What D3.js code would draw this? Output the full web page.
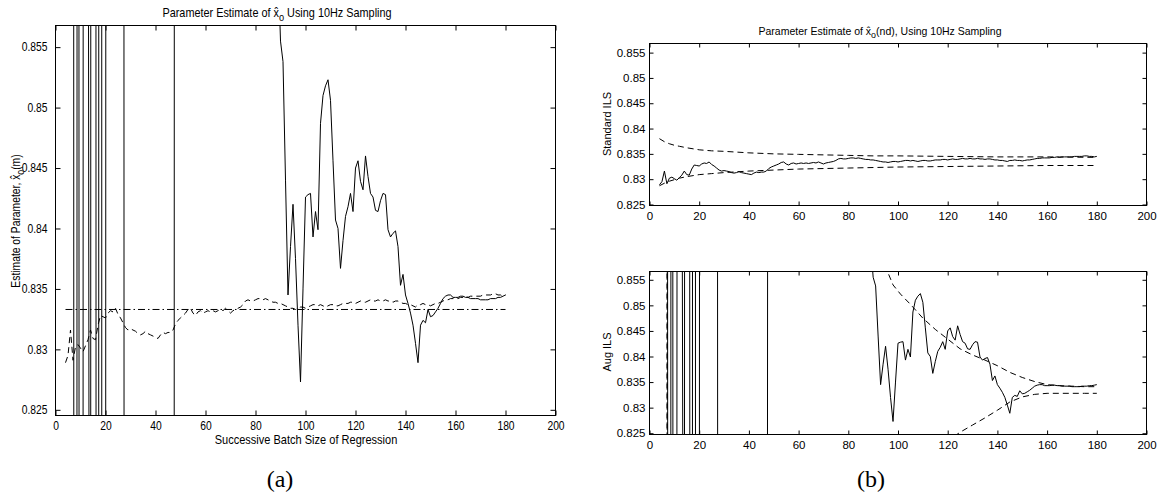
<!DOCTYPE html>
<html>
<head>
<meta charset="utf-8">
<script src="https://cdn.jsdelivr.net/npm/d3@7"></script>
<style>
  body { margin: 0; background: #fff; }
  svg { display: block; }
</style>
</head>
<body>
<div id="chart"></div>
<script>
// batch sizes used by every regression run
const batchSizes = d3.range(4, 181);

// standard ILS estimate, one value per batch size (4..180)
const standardIls = [
  0.8289, 0.8295, 0.8316, 0.8291, 0.8302, 0.8304, 0.8301, 0.8298, 0.8303, 0.8308,
  0.8316, 0.8309, 0.8308, 0.8320, 0.8328, 0.8327, 0.8326, 0.8330, 0.8332, 0.8331,
  0.8334, 0.8329, 0.8326, 0.8322, 0.8318, 0.8316, 0.8317, 0.8316, 0.8315, 0.8313,
  0.8312, 0.8313, 0.8315, 0.8313, 0.8312, 0.8311, 0.8310, 0.8309, 0.8312, 0.8314,
  0.8313, 0.8314, 0.8314, 0.8316, 0.8321, 0.8324, 0.8326, 0.8328, 0.8330, 0.8333,
  0.8334, 0.8330, 0.8328, 0.8331, 0.8332, 0.8330, 0.8331, 0.8332, 0.8331, 0.8332,
  0.8331, 0.8332, 0.8333, 0.8332, 0.8334, 0.8332, 0.8330, 0.8332, 0.8333, 0.8334,
  0.8335, 0.8337, 0.8340, 0.8341, 0.8340, 0.8340, 0.8341, 0.8342, 0.8342, 0.8341,
  0.8342, 0.8341, 0.8340, 0.8339, 0.8339, 0.8338, 0.8338, 0.8337, 0.8336, 0.8335,
  0.8334, 0.8334, 0.8333, 0.8334, 0.8335, 0.8335, 0.8334, 0.8335, 0.8336, 0.8337,
  0.8337, 0.8336, 0.8337, 0.8336, 0.8335, 0.8336, 0.8337, 0.8337, 0.8336, 0.8336,
  0.8337, 0.8338, 0.8338, 0.8338, 0.8339, 0.8339, 0.8338, 0.8339, 0.8340, 0.8339,
  0.8339, 0.8340, 0.8341, 0.8340, 0.8340, 0.8341, 0.8340, 0.8340, 0.8341, 0.8340,
  0.8340, 0.8339, 0.8340, 0.8340, 0.8339, 0.8338, 0.8338, 0.8337, 0.8337, 0.8336,
  0.8335, 0.8337, 0.8337, 0.8338, 0.8337, 0.8337, 0.8336, 0.8337, 0.8338, 0.8338,
  0.8339, 0.8340, 0.8341, 0.8341, 0.8342, 0.8342, 0.8342, 0.8342, 0.8343, 0.8343,
  0.8344, 0.8343, 0.8344, 0.8344, 0.8344, 0.8344, 0.8344, 0.8345, 0.8345, 0.8345,
  0.8345, 0.8346, 0.8346, 0.8345, 0.8345, 0.8344, 0.8345
];

// augmented ILS estimate (wild, off the axes for small batches)
const augmentedIls = [
  1.84, 1.60, 1.30, 1.14, 0.14, 1.31, 0.14, 0.79, 1.79, 0.90,
  0.70, 2.10, 1.04, 0.04, 2.74, -1.06, 0.74, 1.74, 1.90, 2.00,
  1.80, 1.60, 1.50, 1.24, 0.24, 0.10, 0.00, -0.10, -0.15, -0.20,
  -0.22, -0.25, -0.20, -0.15, -0.10, -0.05, 0.00, 0.05, 0.10, 0.15,
  0.20, 0.25, 0.30, 0.34, 1.34, 1.32, 1.30, 1.28, 1.27, 1.24,
  1.22, 1.21, 1.18, 1.16, 1.15, 1.12, 1.10, 1.09, 1.08, 1.06,
  1.06, 1.05, 1.03, 1.03, 1.02, 1.01, 1.00, 0.99, 0.98, 0.97,
  0.96, 0.95, 0.945, 0.94, 0.93, 0.93, 0.925, 0.92, 0.915, 0.91,
  0.905, 0.90, 0.89, 0.88, 0.87, 0.862, 0.8555, 0.8538, 0.8440, 0.8345,
  0.8385, 0.8420, 0.8375, 0.8320, 0.8273, 0.8350, 0.8426, 0.8428, 0.8429, 0.8393,
  0.8414, 0.8399, 0.8487, 0.8510, 0.8518, 0.8523, 0.8506, 0.8456, 0.8407, 0.8400,
  0.8367, 0.8390, 0.8410, 0.8418, 0.8429, 0.8414, 0.8450, 0.8456, 0.8439, 0.8432,
  0.8460, 0.8443, 0.8429, 0.8426, 0.8415, 0.8414, 0.8423, 0.8429, 0.8428, 0.8399,
  0.8393, 0.8396, 0.8398, 0.8385, 0.8353, 0.8362, 0.8345, 0.8338, 0.8330, 0.8320,
  0.8305, 0.8289, 0.8320, 0.8324, 0.8322, 0.8333, 0.8327, 0.8328, 0.8331, 0.8334,
  0.8338, 0.8342, 0.8344, 0.8345, 0.8345, 0.8343, 0.8343, 0.8343, 0.8344, 0.8344,
  0.8343, 0.8343, 0.8342, 0.8342, 0.8342, 0.8342, 0.8341, 0.8341, 0.8341, 0.8341,
  0.8342, 0.8342, 0.8342, 0.8343, 0.8343, 0.8344, 0.8345
];

// true parameter value (dash-dot reference)
const trueN = [4, 180];
const trueValue = [0.8333, 0.8333];

// confidence bounds of the standard ILS estimate
const stdBoundN = [4, 6, 8, 10, 12, 15, 20, 25, 30, 40, 50, 60, 70, 80, 90, 100, 120, 140, 160, 180];
const stdUpper = [0.8380, 0.8374, 0.8370, 0.8367, 0.8365, 0.8362, 0.8358, 0.8356, 0.8355, 0.8352,
  0.8350, 0.8349, 0.8348, 0.8347, 0.8346, 0.8346, 0.8345, 0.8344, 0.8344, 0.8343];
const stdLower = [0.8287, 0.8292, 0.8296, 0.8299, 0.8302, 0.8305, 0.8309, 0.8311, 0.8313, 0.8316,
  0.8318, 0.8320, 0.8321, 0.8322, 0.8323, 0.8324, 0.8325, 0.8326, 0.8327, 0.8327];

// confidence bounds of the augmented ILS estimate
const augUpperN = [4, 5, 6, 7, 8, 10, 15, 20, 30, 40, 50, 60, 70, 80, 85, 90, 93, 95, 98, 101,
  105, 110, 115, 120, 125, 130, 135, 140, 145, 150, 155, 160, 165, 170, 175, 180];
const augUpper = [0.30, 0.50, 0.60, 0.76, 1.64, 1.50, 1.30, 1.20, 1.10, 1.00, 0.95, 0.92, 0.90, 0.885,
  0.876, 0.866, 0.8605, 0.8575, 0.8540, 0.8522, 0.8502, 0.8475, 0.8453, 0.8434, 0.8415, 0.8403,
  0.8393, 0.8382, 0.8369, 0.8359, 0.8351, 0.8345, 0.8343, 0.8342, 0.8341, 0.8341];
const augLowerN = [4, 5, 6, 7, 8, 10, 20, 40, 60, 80, 100, 110, 115, 120, 123, 125, 130, 135, 140,
  145, 150, 155, 160, 165, 170, 175, 180];
const augLower = [1.30, 1.20, 1.10, 0.92, 0.04, 0.20, 0.50, 0.65, 0.72, 0.76, 0.79, 0.8175, 0.8215,
  0.8238, 0.8245, 0.8252, 0.8266, 0.8280, 0.8295, 0.8311, 0.8321, 0.8326, 0.8328, 0.8328, 0.8328,
  0.8328, 0.8328];

const xTicks = [0, 20, 40, 60, 80, 100, 120, 140, 160, 180, 200];
const yTicks = [0.825, 0.83, 0.835, 0.84, 0.845, 0.85, 0.855];

const FONT = '"Liberation Sans", Arial, Helvetica, sans-serif';
const SERIF = '"Liberation Serif", "DejaVu Serif", serif';
const DASH = "6,4";
const DASHDOT = "7,3,1.5,3";

const svg = d3.select("#chart").append("svg")
    .attr("width", 1161)
    .attr("height", 499);

// text with a horizontal squeeze, as in the scaled figure
function label(x, y, k, size, anchor, rotate) {
    return svg.append("text")
        .attr("transform", `translate(${x},${y})${rotate ? " rotate(-90)" : ""} scale(${k},1)`)
        .attr("text-anchor", anchor)
        .attr("font-family", FONT)
        .attr("font-size", size)
        .attr("fill", "#000");
}

// writes "before x̂o after" with the o as a subscript
function hatLabel(t, before, after, size) {
    t.append("tspan").text(before + "x\u0302");
    t.append("tspan").attr("font-size", size * 0.85).attr("dy", size * 0.3).text("o");
    t.append("tspan").attr("dy", -size * 0.3).text(after);
}

function drawPanel(o) {
    const x = d3.scaleLinear().domain([0, 200]).range([o.left, o.right]);
    const y = d3.scaleLinear().domain(o.yDomain).range([o.bottom, o.top]);

    svg.append("clipPath").attr("id", "clip-" + o.id)
        .append("rect")
        .attr("x", o.left).attr("y", o.top)
        .attr("width", o.right - o.left).attr("height", o.bottom - o.top);

    const plot = svg.append("g").attr("clip-path", `url(#clip-${o.id})`);

    o.series.forEach(s => {
        const line = d3.line()
            .x((d, i) => x(s.n[i]))
            .y(d => y(d));
        plot.append("path")
            .datum(s.v)
            .attr("d", line)
            .attr("fill", "none")
            .attr("stroke", "#000")
            .attr("stroke-width", 1)
            .attr("stroke-dasharray", s.dash || null);
    });

    const fmt = d => String(d);

    // ticks point inwards on all four sides
    const bottom = svg.append("g")
        .attr("transform", `translate(0,${o.bottom})`)
        .call(d3.axisBottom(x).tickValues(xTicks).tickFormat(d3.format("d"))
            .tickSizeInner(-o.tick).tickSizeOuter(0).tickPadding(o.xPad));
    const left = svg.append("g")
        .attr("transform", `translate(${o.left},0)`)
        .call(d3.axisLeft(y).tickValues(yTicks).tickFormat(fmt)
            .tickSizeInner(-o.tick).tickSizeOuter(0).tickPadding(o.yPad / o.k));
    svg.append("g")
        .attr("transform", `translate(0,${o.top})`)
        .call(d3.axisTop(x).tickValues(xTicks).tickFormat("")
            .tickSizeInner(-o.tick).tickSizeOuter(0));
    svg.append("g")
        .attr("transform", `translate(${o.right},0)`)
        .call(d3.axisRight(y).tickValues(yTicks).tickFormat("")
            .tickSizeInner(-o.tick).tickSizeOuter(0));

    [bottom, left].forEach(g => g.selectAll("text")
        .attr("font-family", FONT)
        .attr("font-size", o.fs)
        .attr("fill", "#000")
        .attr("transform", `scale(${o.k},1)`));
    svg.selectAll(".domain").attr("stroke", "none");
    svg.selectAll(".tick line").attr("stroke", "#000");

    svg.append("rect")
        .attr("x", o.left).attr("y", o.top)
        .attr("width", o.right - o.left).attr("height", o.bottom - o.top)
        .attr("fill", "none")
        .attr("stroke", "#000")
        .attr("stroke-width", 1);

    return { x, y };
}

// (a) both estimates on one axis
drawPanel({
    id: "a", left: 55.5, right: 555.5, top: 25.5, bottom: 415.5,
    yDomain: [0.82453, 0.85679], tick: 5, k: 0.86, fs: 12, xPad: 6, yPad: 8,
    series: [
        { n: batchSizes, v: augmentedIls },
        { n: batchSizes, v: standardIls, dash: DASH },
        { n: trueN, v: trueValue, dash: DASHDOT }
    ]
});
hatLabel(label(277, 17, 0.87, 12.5, "middle"), "Parameter Estimate of ", " Using 10Hz Sampling", 12.5);
label(306, 444, 0.92, 12, "middle").text("Successive Batch Size of Regression");
hatLabel(label(20, 221, 0.86, 12, "middle", true), "Estimate of Parameter, ", "(m)", 12);

// (b) top: standard ILS with its bounds
drawPanel({
    id: "b1", left: 649.5, right: 1146.5, top: 43.5, bottom: 205.5,
    yDomain: [0.8248, 0.8568], tick: 4, k: 1, fs: 11.5, xPad: 6, yPad: 4,
    series: [
        { n: batchSizes, v: standardIls },
        { n: stdBoundN, v: stdUpper, dash: DASH },
        { n: stdBoundN, v: stdLower, dash: DASH }
    ]
});
hatLabel(label(880, 35, 1, 10.5, "middle"), "Parameter Estimate of ", "(nd), Using 10Hz Sampling", 10.5);
label(611, 124, 1, 11, "middle", true).text("Standard ILS");

// (b) bottom: augmented ILS with its bounds
drawPanel({
    id: "b2", left: 649.5, right: 1146.5, top: 271.5, bottom: 434.5,
    yDomain: [0.82475, 0.85662], tick: 4, k: 1, fs: 11.5, xPad: 6, yPad: 4,
    series: [
        { n: batchSizes, v: augmentedIls },
        { n: augUpperN, v: augUpper, dash: DASH },
        { n: augLowerN, v: augLower, dash: DASH }
    ]
});
label(611, 352, 1, 11, "middle", true).text("Aug ILS");

// sub-figure captions
svg.append("text").attr("x", 280).attr("y", 487).attr("text-anchor", "middle")
    .attr("font-family", SERIF).attr("font-size", 24)
    .text("(a)");
svg.append("text").attr("x", 871).attr("y", 487).attr("text-anchor", "middle")
    .attr("font-family", SERIF).attr("font-size", 24)
    .text("(b)");
</script>
</body>
</html>
